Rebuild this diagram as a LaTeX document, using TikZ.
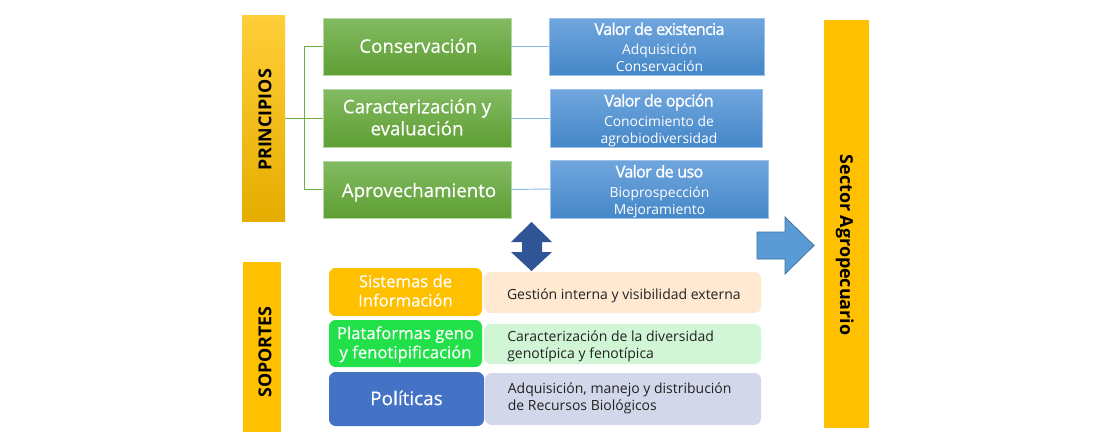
\documentclass[tikz,border=0pt]{standalone}
\usepackage{fontspec}
\setmainfont{Open Sans}
\usetikzlibrary{calc}
\definecolor{gold}{HTML}{FFC000}
\definecolor{grnT}{HTML}{82BA62}
\definecolor{grnM}{HTML}{6AB044}
\definecolor{grnB}{HTML}{5F9F33}
\definecolor{bluT}{HTML}{70A6DE}
\definecolor{bluM}{HTML}{5698DA}
\definecolor{bluB}{HTML}{4587C8}
\definecolor{lnkG}{HTML}{70AD47}
\definecolor{lnkB}{HTML}{8DB8E2}
\definecolor{txt}{HTML}{222222}
\definecolor{arrD}{HTML}{2F5597}
\definecolor{arrE}{HTML}{41719C}
\definecolor{arrF}{HTML}{5B9BD5}
\definecolor{plat}{HTML}{22E04A}
\definecolor{pol}{HTML}{4472C4}
\definecolor{pale1}{HTML}{FFE9D1}
\definecolor{pale2}{HTML}{D0F6D6}
\definecolor{pale3}{HTML}{D2D8EA}
\newcommand{\valt}{\fontsize{12.2}{14}\selectfont\addfontfeature{FakeBold=1.3,LetterSpace=-4.4}}
\newcommand{\glow}{\addfontfeature{FakeBold=0.3}}
% text block centred on the node, displaced by dx, dy
\newcommand{\tb}[3]{\hspace*{#1}\makebox[0pt]{\raisebox{#2}[0pt][0pt]{\begin{tabular}{@{}c@{}}#3\end{tabular}}}\hspace*{-#1}}
% left-aligned text block starting at dx from the node centre
\newcommand{\tl}[3]{\makebox[0pt][l]{\hspace*{#1}\raisebox{#2}[0pt][0pt]{\begin{tabular}{@{}l@{}}#3\end{tabular}}}}
\tikzset{
  x=0.75pt,y=-0.75pt,
  box/.style={inner sep=0pt,outer sep=0pt,anchor=north west},
  pillar/.style={box,fill=gold,font=\fontsize{13.4}{16}\selectfont\bfseries,text=black},
  grn/.style={box,draw=grnT!60!white,line width=0.4pt,top color=grnT,middle color=grnM,bottom color=grnB,text=white,font=\fontsize{14.05}{16.5}\selectfont\glow},
  blu/.style={box,draw=bluT!70!white,line width=0.4pt,top color=bluT,middle color=bluM,bottom color=bluB,text=white,font=\fontsize{10.4}{12.75}\selectfont},
  suppb/.style={box,rounded corners=5pt,text=white,font=\fontsize{12.5}{14.4}\selectfont\glow},
  pale/.style={box,rounded corners=5pt,text=txt,font=\fontsize{10.5}{12.75}\selectfont},
  glink/.style={draw=lnkG,line width=0.7pt},
  blink/.style={draw=lnkB,line width=0.7pt}
}
\begin{document}
\begin{tikzpicture}
\useasboundingbox[fill=white] (0,0) rectangle (1110,446);
% pillars
\node[pillar,minimum width=32.25pt,minimum height=154.5pt,top color=gold!78!white,middle color=gold,bottom color=gold!90!black] (p) at (242,15) {\rotatebox{90}{\raisebox{-5.9pt}[0pt][0pt]{PRINCIPIOS}\hspace*{3pt}}};
\node[pillar,minimum width=28.5pt,minimum height=127.5pt] (s) at (243,262) {\rotatebox{90}{\raisebox{-7pt}[0pt][0pt]{SOPORTES}\hspace*{7.5pt}}};
\node[pillar,minimum width=33.75pt,minimum height=306pt] (a) at (824,20) {\rotatebox{-90}{\hspace*{31.5pt}\raisebox{-4.8pt}[0pt][0pt]{Sector Agropecuario}}};
% green
\node[grn,minimum width=141pt,minimum height=42.75pt] (g1) at (323,18) {\tb{1pt}{-5pt}{Conservación}};
\node[grn,minimum width=141pt,minimum height=43.5pt] (g2) at (323,89) {\tb{0pt}{-5pt}{Caracterización y\\evaluación}};
\node[grn,minimum width=141pt,minimum height=42.75pt] (g3) at (323,161) {\tb{1.5pt}{-6pt}{Aprovechamiento}};
% blue
\node[blu,minimum width=161.25pt,minimum height=42.75pt] (b1) at (549,18) {\tb{2.25pt}{-5pt}{{\valt Valor de existencia}\\[2.25pt]Adquisición\\Conservación}};
\node[blu,minimum width=159pt,minimum height=43.5pt] (b2) at (550,89) {\tb{2.25pt}{-5pt}{{\valt Valor de opción}\\[2.25pt]Conocimiento de\\agrobiodiversidad}};
\node[blu,minimum width=163.5pt,minimum height=43.5pt] (b3) at (550,160) {\tb{0.4pt}{-5pt}{{\valt Valor de uso}\\[2.25pt]Bioprospección\\Mejoramiento}};
% connectors
\coordinate (hub) at ($(p.east)+(14.25pt,0)$);
\draw[glink] (p.east) -- (g2.west);
\draw[glink] (hub) |- (g1.west);
\draw[glink] (hub) |- (g3.west);
\draw[blink] (g1.east) -- (b1.west);
\draw[blink] (g2.east) -- (b2.west);
\draw[blink] (g3.east) -- (b3.west);
% arrows
\fill[arrD] (531.5,222) -- (552,242) -- (542,242) -- (542,252) -- (552,252) -- (531.5,271) -- (511,252) -- (522,252) -- (522,242) -- (511,242) -- cycle;
\draw[draw=arrE,fill=arrF,line width=0.6pt] (757,232) -- (785,232) -- (785,217) -- (814,245.5) -- (785,274) -- (785,259) -- (757,259) -- cycle;
% supports
\node[suppb,fill=gold,minimum width=114.75pt,minimum height=36pt] (k1) at (329,268) {\tb{0pt}{-3.75pt}{Sistemas de\\Información}};
\node[suppb,fill=plat,minimum width=114.75pt,minimum height=35.25pt] (k2) at (329,320) {\tb{0pt}{-4pt}{Plataformas geno\\y fenotipificación}};
\node[suppb,fill=pol,minimum width=116.25pt,minimum height=40.5pt,font=\fontsize{14.2}{16}\selectfont\glow] (k3) at (329,372) {\tb{0pt}{-5pt}{Políticas}};
\node[pale,fill=pale1,minimum width=207.75pt,minimum height=30.75pt] (d1) at (484,272) {\tl{-86.6pt}{-5.75pt}{Gestión interna y visibilidad externa}};
\node[pale,fill=pale2,minimum width=207.75pt,minimum height=30pt] (d2) at (484,324) {\tl{-86.4pt}{-4.7pt}{Caracterización de la diversidad\\genotípica y fenotípica}};
\node[pale,fill=pale3,minimum width=207pt,minimum height=39pt] (d3) at (485,373) {\tl{-86.4pt}{-2.5pt}{Adquisición, manejo y distribución\\de Recursos Biológicos}};
\end{tikzpicture}
\end{document}
